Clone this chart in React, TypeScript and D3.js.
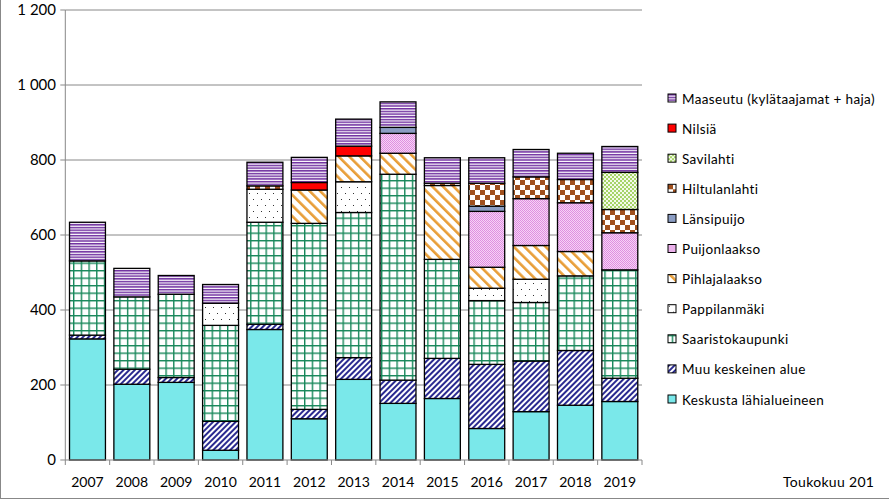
import React from "react";
import * as d3 from "d3";

const years = ["2007","2008","2009","2010","2011","2012","2013","2014","2015","2016","2017","2018","2019"];
const keskusta = [323,202,207,26,348,110,215,151,164,84,129,146,156];
const muu = [10,40,13,77,14,25,58,62,107,171,135,146,62];
const saaristo = [198,193,222,256,272,496,387,549,264,170,156,199,289];
const pappila = [0,0,0,59,88,0,82,0,0,33,62,0,0];
const pihlaja = [0,0,0,0,0,89,69,56,197,56,90,65,0];
const puijon = [0,0,0,0,0,0,0,53,0,149,125,130,99];
const lansi = [0,0,0,0,0,0,0,16,0,14,0,0,0];
const hiltu = [0,0,0,0,9,0,0,0,6,61,58,62,62];
const savilahti = [0,0,0,0,0,0,0,0,0,0,0,0,99];
const nilsia = [0,0,0,0,0,20,26,0,0,0,0,0,0];
const maaseutu = [103,76,50,50,63,67,72,68,68,68,73,70,69];
const yTicks = [0,200,400,600,800,1000,1200];

const series = [
  { name: "Keskusta lähialueineen", values: keskusta, fill: "#7ae8ea" },
  { name: "Muu keskeinen alue", values: muu, fill: "url(#pMuu)" },
  { name: "Saaristokaupunki", values: saaristo, fill: "url(#pSaar)" },
  { name: "Pappilanmäki", values: pappila, fill: "url(#pPap)" },
  { name: "Pihlajalaakso", values: pihlaja, fill: "url(#pPih)" },
  { name: "Puijonlaakso", values: puijon, fill: "url(#pPuij)" },
  { name: "Länsipuijo", values: lansi, fill: "#8b9dc3" },
  { name: "Hiltulanlahti", values: hiltu, fill: "url(#pHilt)" },
  { name: "Savilahti", values: savilahti, fill: "url(#pSav)" },
  { name: "Nilsiä", values: nilsia, fill: "#ff0000" },
  { name: "Maaseutu (kylätaajamat + haja)", values: maaseutu, fill: "url(#pMaa)" },
];

const W = 889, H = 500;
const left = 65.3, right = 642, top = 10, bottom = 460;

export default function App() {
  const x = d3.scaleBand<string>().domain(years).range([left, right]).paddingInner(0.19).paddingOuter(0.095);
  const y = d3.scaleLinear().domain([0, 1200]).range([bottom, top]);
  const step = (right - left) / years.length;
  const font = "Lato, 'Open Sans', sans-serif";

  const rects: React.ReactNode[] = [];
  years.forEach((yr, i) => {
    let acc = 0;
    series.forEach((s, si) => {
      const v = s.values[i];
      if (v > 0) {
        const y0 = y(acc), y1 = y(acc + v);
        rects.push(
          <rect key={yr + si} x={x(yr)} y={y1} width={x.bandwidth()} height={y0 - y1}
            fill={s.fill} stroke="#000" strokeWidth={1.3} />
        );
      }
      acc += v;
    });
  });

  const legend = series.slice().reverse();

  return (
    <svg width={W} height={H} style={{ position: "absolute", left: 0, top: 0, background: "#fff" }}>
      <defs>
        <pattern id="pMaa" patternUnits="userSpaceOnUse" width="4" height="2.7">
          <rect width="4" height="2.7" fill="#fff" />
          <rect width="4" height="1.5" fill="#7030a0" />
        </pattern>
        <pattern id="pSaar" patternUnits="userSpaceOnUse" width="7.7" height="7.5" x={left} y={0}>
          <rect width="7.7" height="7.5" fill="#fff" />
          <rect width="1.4" height="7.5" fill="#17875a" />
          <rect width="7.7" height="1.4" fill="#17875a" />
        </pattern>
        <pattern id="pMuu" patternUnits="userSpaceOnUse" width="4" height="4" patternTransform="rotate(45)">
          <rect width="4" height="4" fill="#fff" />
          <rect width="2" height="4" fill="#2a2a90" />
        </pattern>
        <pattern id="pPih" patternUnits="userSpaceOnUse" width="7.5" height="7.5" patternTransform="rotate(-45)">
          <rect width="7.5" height="7.5" fill="#fff" />
          <rect width="2.6" height="7.5" fill="#e89e38" />
        </pattern>
        <pattern id="pPap" patternUnits="userSpaceOnUse" width="8" height="12">
          <rect width="8" height="12" fill="#fff" />
          <rect x="1" y="1" width="1" height="1" fill="#333" />
          <rect x="5" y="7" width="1" height="1" fill="#333" />
        </pattern>
        <pattern id="pPuij" patternUnits="userSpaceOnUse" width="2" height="2">
          <rect width="2" height="2" fill="#f6d2f6" />
          <rect width="1" height="1" fill="#df8fe0" />
          <rect x="1" y="1" width="1" height="1" fill="#df8fe0" />
        </pattern>
        <pattern id="pHilt" patternUnits="userSpaceOnUse" width="10" height="10">
          <rect width="10" height="10" fill="#fff" />
          <rect width="5" height="5" fill="#a0501e" />
          <rect x="5" y="5" width="5" height="5" fill="#a0501e" />
        </pattern>
        <pattern id="pSav" patternUnits="userSpaceOnUse" width="4" height="4">
          <rect width="4" height="4" fill="#f4faea" />
          <rect width="2" height="2" fill="#a6d468" />
          <rect x="2" y="2" width="2" height="2" fill="#a6d468" />
        </pattern>
      </defs>

      {/* outer frame */}
      <rect x={0.5} y={-5} width={W + 10} height={503.5} fill="none" stroke="#888" strokeWidth={1} />

      {/* gridlines */}
      {yTicks.filter(t => t > 0).map(t => (
        <line key={t} x1={left} x2={right} y1={y(t)} y2={y(t)} stroke="#888" strokeWidth={1} />
      ))}
      {/* y tick marks and labels */}
      {yTicks.map(t => (
        <g key={"yt" + t}>
          <line x1={left - 5} x2={left} y1={y(t)} y2={y(t)} stroke="#888" />
          <text x={56} y={y(t) + 5} textAnchor="end" fontFamily={font} fontSize={15} fill="#000">
            {d3.format(",")(t).replace(",", " ")}
          </text>
        </g>
      ))}

      {rects}

      {/* axes */}
      <line x1={left} x2={left} y1={top} y2={bottom} stroke="#888" />
      <line x1={left} x2={right} y1={bottom} y2={bottom} stroke="#888" />
      {d3.range(years.length + 1).map(i => (
        <line key={"xt" + i} x1={left + i * step} x2={left + i * step} y1={bottom} y2={bottom + 5} stroke="#888" />
      ))}
      {years.map(yr => (
        <text key={"xl" + yr} x={(x(yr) as number) + x.bandwidth() / 2} y={487} textAnchor="middle"
          fontFamily={font} fontSize={14} fill="#000">{yr}</text>
      ))}

      {/* legend */}
      {legend.map((s, i) => (
        <g key={"lg" + i} transform={`translate(668, ${94 + i * 30.1})`}>
          <rect x={0} y={0} width={8} height={8} fill={s.fill} stroke="#000" strokeWidth={1} />
          <text x={14} y={9.5} fontFamily={font} fontSize={13.5} letterSpacing={0.35} fill="#000">{s.name}</text>
        </g>
      ))}

      <text x={783} y={487} fontFamily={font} fontSize={14} letterSpacing={0.3} fill="#000">Toukokuu 201</text>
    </svg>
  );
}
